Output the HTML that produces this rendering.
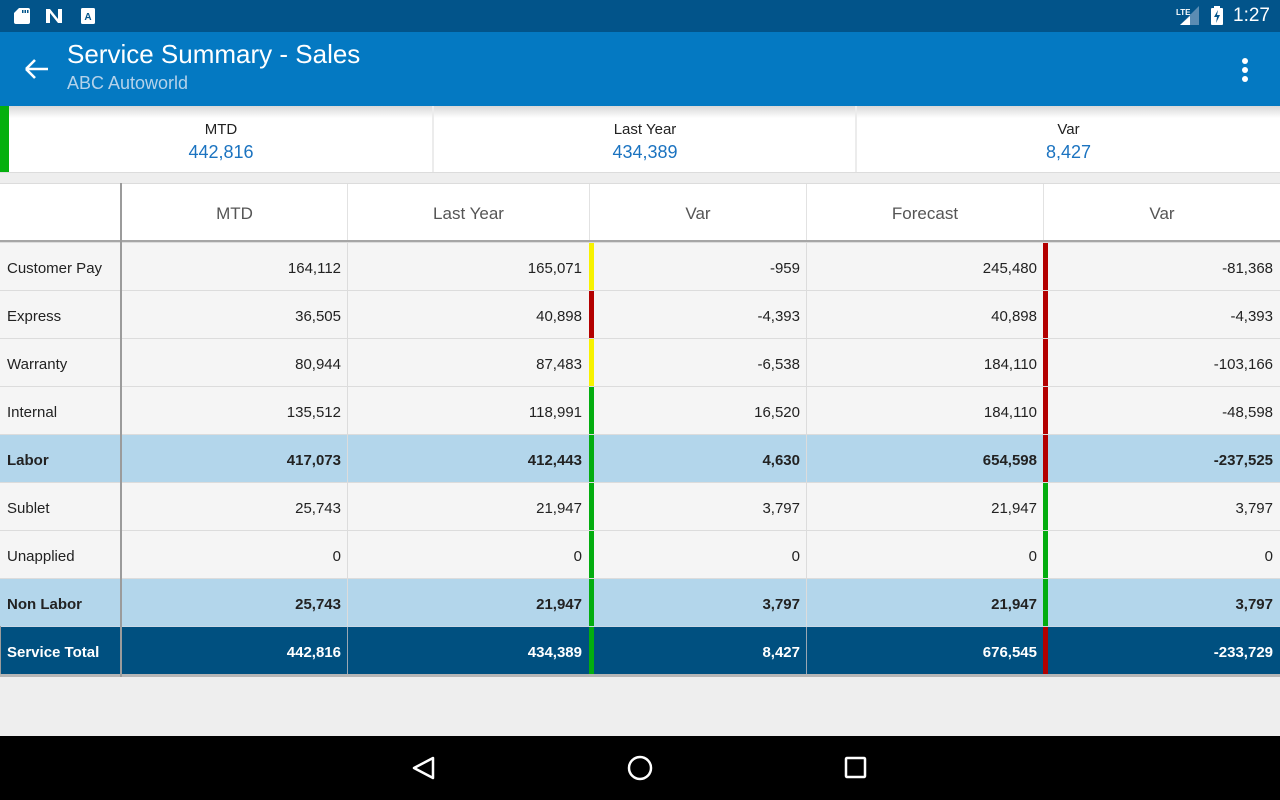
<!DOCTYPE html>
<html><head><meta charset="utf-8">
<style>
*{box-sizing:border-box;margin:0;padding:0}
body{width:1280px;height:800px;overflow:hidden;background:#eeeeee;font-family:"Liberation Sans",Arial,sans-serif;position:relative}
.status{position:absolute;left:0;top:0;width:1280px;height:32px;background:#02548a}
.appbar{position:absolute;left:0;top:32px;width:1280px;height:74px;background:#0479c2}
.title{position:absolute;left:67px;top:7px;color:#fff;font-size:26px;white-space:nowrap}
.sub{position:absolute;left:67px;top:41px;color:#b4d2ea;font-size:18px}
.summary{position:absolute;left:0;top:106px;width:1280px;height:67px;background:#fff;border-bottom:1px solid #dcdcdc}
.summary .shadow{position:absolute;left:0;top:0;width:1280px;height:12px;background:linear-gradient(#d8d8d8,rgba(255,255,255,0))}
.sitem{position:absolute;top:0;height:66px;text-align:center}
.sitem .l{position:absolute;left:0;right:0;top:15px;font-size:15px;color:#222}
.sitem .v{position:absolute;left:0;right:0;top:36px;font-size:18px;color:#1b73c0}
.sdiv{position:absolute;top:0;width:2px;height:66px;background:#ececec}
.table{position:absolute;left:0;top:183px;width:1280px}
.row{position:absolute;left:0;width:1280px;height:48px;display:flex;border-top:1px solid #dcdcdc;background:#f5f5f5;font-size:15px;color:#222}
.row > div{height:47px;line-height:51px;white-space:nowrap;position:relative}
.c0{width:120px;padding-left:7px}
.cd{width:2px}
.c1{width:225px;text-align:right;padding-right:6px}
.c2{width:242px;text-align:right;padding-right:7px;border-left:1px solid #dcdcdc}
.c3{width:217px;text-align:right;padding-right:6px}
.c4{width:237px;text-align:right;padding-right:6px;border-left:1px solid #dcdcdc}
.c5{width:237px;text-align:right;padding-right:7px}
.ind{position:absolute;left:0;top:0;width:5px;height:47px}
.y{background:#f7f200}.r{background:#b30000}.g{background:#03ad0f}
.hl{background:#b3d6eb;font-weight:bold}
.tot{background:#005080;color:#fff;font-weight:bold;border-top:1px solid #c9d9e6}
.tot .c2,.tot .c4{border-left:1px solid #9aa7b3}
.hdr{position:absolute;left:0;top:0;width:1280px;height:59px;background:#fff;border-top:1px solid #dcdcdc;display:flex;border-bottom:2px solid #a6a6a6;font-size:17px;color:#555}
.hdr > div{height:56px;line-height:60px;text-align:center}
.vline{position:absolute;left:120px;top:0;width:2px;height:494px;background:#9b9b9b}
.nav{position:absolute;left:0;top:736px;width:1280px;height:64px;background:#000}
</style></head><body>
<div class="status">
  <svg width="1280" height="32" style="position:absolute;left:0;top:0">
    <path d="M19 8 h9 a2 2 0 0 1 2 2 v12 a2 2 0 0 1 -2 2 h-12 a2 2 0 0 1 -2 -2 v-9 z" fill="#fff"/>
    <rect x="22" y="10" width="1.5" height="3" fill="#02548a"/><rect x="24.5" y="10" width="1.5" height="3" fill="#02548a"/><rect x="27" y="10" width="1.5" height="3" fill="#02548a"/>
    <path d="M46 9 h4 l8 10 v-10 h4 v14 h-4 l-8 -10 v10 h-4 z" fill="#fff"/>
    <rect x="81" y="8" width="14" height="16" rx="1.5" fill="#fff"/>
    <text x="88" y="20" font-size="10" font-weight="bold" text-anchor="middle" fill="#02548a" font-family="Liberation Sans">A</text>
    <text x="1176" y="15" font-size="8" font-weight="bold" fill="#fff" font-family="Liberation Sans">LTE</text>
    <path d="M1180 25 L1199 25 L1199 6 Z" fill="#5b8cb3"/>
    <path d="M1180 25 L1190 25 L1190 16 Z" fill="#fff"/>
    <rect x="1211" y="8" width="12" height="17" rx="1" fill="#fff"/>
    <rect x="1214" y="6" width="6" height="3" fill="#fff"/>
    <path d="M1218 10 l-4 7 h3 l-1 6 l4 -8 h-3 z" fill="#02548a"/>
  </svg>
  <div style="position:absolute;left:1233px;top:5px;color:#fff;font-size:19px">1:27</div>
</div>
<div class="appbar">
  <svg width="40" height="40" style="position:absolute;left:18px;top:17px">
    <path d="M8 20 H30 M8 20 L17 11 M8 20 L17 29" stroke="#fff" stroke-width="2.6" fill="none"/>
  </svg>
  <div class="title">Service Summary - Sales</div>
  <div class="sub">ABC Autoworld</div>
  <div style="position:absolute;left:1242px;top:26px;width:6px;height:6px;border-radius:3px;background:#fff"></div>
  <div style="position:absolute;left:1242px;top:35px;width:6px;height:6px;border-radius:3px;background:#fff"></div>
  <div style="position:absolute;left:1242px;top:44px;width:6px;height:6px;border-radius:3px;background:#fff"></div>
</div>
<div class="summary">
  <div class="shadow"></div>
  <div style="position:absolute;left:0;top:0;width:9px;height:66px;background:#04b00e"></div>
  <div class="sitem" style="left:9px;width:424px"><div class="l">MTD</div><div class="v">442,816</div></div>
  <div class="sdiv" style="left:432px"></div>
  <div class="sitem" style="left:434px;width:422px"><div class="l">Last Year</div><div class="v">434,389</div></div>
  <div class="sdiv" style="left:855px"></div>
  <div class="sitem" style="left:857px;width:423px"><div class="l">Var</div><div class="v">8,427</div></div>
</div>
<div class="table">
  <div class="hdr">
    <div style="width:120px"></div><div style="width:2px"></div>
    <div style="width:225px">MTD</div>
    <div style="width:242px;border-left:1px solid #e2e2e2">Last Year</div>
    <div style="width:217px;border-left:1px solid #e2e2e2">Var</div>
    <div style="width:237px;border-left:1px solid #e2e2e2">Forecast</div>
    <div style="width:237px;border-left:1px solid #e2e2e2">Var</div>
  </div>
  <div class="row" style="top:59px"><div class="c0">Customer Pay</div><div class="cd"></div><div class="c1">164,112</div><div class="c2">165,071</div><div class="c3"><span class="ind y"></span>-959</div><div class="c4">245,480</div><div class="c5"><span class="ind r"></span>-81,368</div></div>
  <div class="row" style="top:107px"><div class="c0">Express</div><div class="cd"></div><div class="c1">36,505</div><div class="c2">40,898</div><div class="c3"><span class="ind r"></span>-4,393</div><div class="c4">40,898</div><div class="c5"><span class="ind r"></span>-4,393</div></div>
  <div class="row" style="top:155px"><div class="c0">Warranty</div><div class="cd"></div><div class="c1">80,944</div><div class="c2">87,483</div><div class="c3"><span class="ind y"></span>-6,538</div><div class="c4">184,110</div><div class="c5"><span class="ind r"></span>-103,166</div></div>
  <div class="row" style="top:203px"><div class="c0">Internal</div><div class="cd"></div><div class="c1">135,512</div><div class="c2">118,991</div><div class="c3"><span class="ind g"></span>16,520</div><div class="c4">184,110</div><div class="c5"><span class="ind r"></span>-48,598</div></div>
  <div class="row hl" style="top:251px"><div class="c0">Labor</div><div class="cd"></div><div class="c1">417,073</div><div class="c2">412,443</div><div class="c3"><span class="ind g"></span>4,630</div><div class="c4">654,598</div><div class="c5"><span class="ind r"></span>-237,525</div></div>
  <div class="row" style="top:299px"><div class="c0">Sublet</div><div class="cd"></div><div class="c1">25,743</div><div class="c2">21,947</div><div class="c3"><span class="ind g"></span>3,797</div><div class="c4">21,947</div><div class="c5"><span class="ind g"></span>3,797</div></div>
  <div class="row" style="top:347px"><div class="c0">Unapplied</div><div class="cd"></div><div class="c1">0</div><div class="c2">0</div><div class="c3"><span class="ind g"></span>0</div><div class="c4">0</div><div class="c5"><span class="ind g"></span>0</div></div>
  <div class="row hl" style="top:395px"><div class="c0">Non Labor</div><div class="cd"></div><div class="c1">25,743</div><div class="c2">21,947</div><div class="c3"><span class="ind g"></span>3,797</div><div class="c4">21,947</div><div class="c5"><span class="ind g"></span>3,797</div></div>
  <div class="row tot" style="top:443px"><div class="c0">Service Total</div><div class="cd"></div><div class="c1">442,816</div><div class="c2">434,389</div><div class="c3"><span class="ind g"></span>8,427</div><div class="c4">676,545</div><div class="c5"><span class="ind r"></span>-233,729</div></div>
  <div style="position:absolute;left:0;top:491px;width:1280px;height:3px;background:#b5b5b5"></div>
  <div class="vline"></div>
  <div style="position:absolute;left:0;top:443px;width:1px;height:48px;background:#9b9b9b"></div>
</div>
<div class="nav">
  <svg width="1280" height="64" style="position:absolute;left:0;top:0">
    <path d="M433 22 L414 32 L433 42 Z" stroke="#fff" stroke-width="2.5" fill="none" stroke-linejoin="round"/>
    <circle cx="640" cy="32" r="11" stroke="#fff" stroke-width="2.5" fill="none"/>
    <rect x="846" y="22" width="19" height="19" rx="1" stroke="#fff" stroke-width="2.5" fill="none"/>
  </svg>
</div>
</body></html>
